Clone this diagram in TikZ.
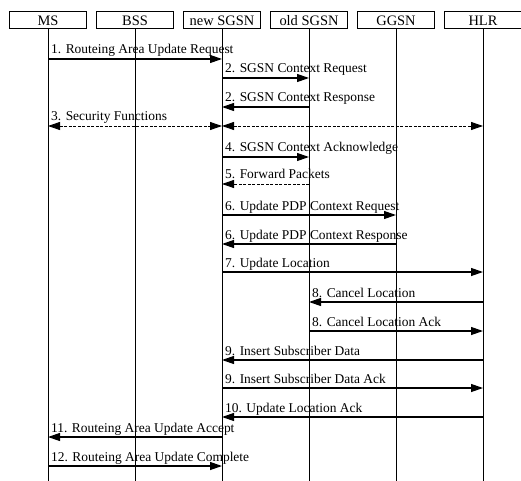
\documentclass[tikz,border=0pt]{standalone}
\usepackage{fontspec}
\setmainfont{Liberation Serif}
\usetikzlibrary{arrows.meta}
\begin{document}
\begin{tikzpicture}[x=1bp,y=-1bp,
  actor/.style={draw,line width=1bp,minimum width=77bp,minimum height=17bp,inner sep=0pt,font=\fontsize{14.5}{14.5}\selectfont},
  life/.style={line width=1bp},
  tip/.tip={Triangle[length=12bp,width=8bp]},
  msgline/.style={line width=1.2bp,-tip},
  dmsg/.style={line width=0.9bp,dash pattern=on 3bp off 1.5bp,-tip},
  both/.style={line width=0.9bp,dash pattern=on 3bp off 1.5bp,tip-tip},
  lbl/.style={anchor=base west,inner sep=0pt,font=\fontsize{13.5}{13.5}\selectfont}]
\useasboundingbox (0,0) rectangle (521,481);
% actors
\node[actor] (ms)   at (48,20.5)  {MS};
\node[actor] (bss)  at (135,20.5) {BSS};
\node[actor] (nsg)  at (222,20.5) {new SGSN};
\node[actor] (osg)  at (309,20.5) {old SGSN};
\node[actor] (ggsn) at (396,20.5) {GGSN};
\node[actor] (hlr)  at (483,20.5) {HLR};
% lifeline ends
\coordinate (msE) at (48,481);
\coordinate (bssE) at (135,481);
\coordinate (nsgE) at (222,481);
\coordinate (osgE) at (309,481);
\coordinate (ggsnE) at (396,481);
\coordinate (hlrE) at (483,481);
\foreach \a in {ms,bss,nsg,osg,ggsn,hlr} \draw[life] (\a) -- (\a E);
% rows
\foreach \n/\y in {r1/59,r2/78,r3/107,r4/126,r5/157,r6/184,r7/215,r8/244,r9/272,r10/302,r11/331,r12/360,r13/388,r14/417,r15/437,r16/466}
  \coordinate (\n) at (0,\y);
% messages
\draw[msgline] (ms |- r1) -- (nsg |- r1);
\node[lbl] at ([shift={(3,-5)}]ms |- r1) {1. Routeing Area Update Request};
\draw[msgline] (nsg |- r2) -- (osg |- r2);
\node[lbl] at ([shift={(3,-5)}]nsg |- r2) {2. SGSN Context Request};
\draw[msgline] (osg |- r3) -- (nsg |- r3);
\node[lbl] at ([shift={(3,-5)}]nsg |- r3) {2. SGSN Context Response};
\draw[both] (ms |- r4) -- (nsg |- r4);
\draw[both] (nsg |- r4) -- (hlr |- r4);
\node[lbl] at ([shift={(3,-5)}]ms |- r4) {3. Security Functions};
\draw[msgline] (nsg |- r5) -- (osg |- r5);
\node[lbl] at ([shift={(3,-5)}]nsg |- r5) {4. SGSN Context Acknowledge};
\draw[dmsg] (osg |- r6) -- (nsg |- r6);
\node[lbl] at ([shift={(3,-5)}]nsg |- r6) {5. Forward Packets};
\draw[msgline] (nsg |- r7) -- (ggsn |- r7);
\node[lbl] at ([shift={(3,-5)}]nsg |- r7) {6. Update PDP Context Request};
\draw[msgline] (ggsn |- r8) -- (nsg |- r8);
\node[lbl] at ([shift={(3,-5)}]nsg |- r8) {6. Update PDP Context Response};
\draw[msgline] (nsg |- r9) -- (hlr |- r9);
\node[lbl] at ([shift={(3,-5)}]nsg |- r9) {7. Update Location};
\draw[msgline] (hlr |- r10) -- (osg |- r10);
\node[lbl] at ([shift={(3,-5)}]osg |- r10) {8. Cancel Location};
\draw[msgline] (osg |- r11) -- (hlr |- r11);
\node[lbl] at ([shift={(3,-5)}]osg |- r11) {8. Cancel Location Ack};
\draw[msgline] (hlr |- r12) -- (nsg |- r12);
\node[lbl] at ([shift={(3,-5)}]nsg |- r12) {9. Insert Subscriber Data};
\draw[msgline] (nsg |- r13) -- (hlr |- r13);
\node[lbl] at ([shift={(3,-5)}]nsg |- r13) {9. Insert Subscriber Data Ack};
\draw[msgline] (hlr |- r14) -- (nsg |- r14);
\node[lbl] at ([shift={(3,-5)}]nsg |- r14) {10. Update Location Ack};
\draw[msgline] (nsg |- r15) -- (ms |- r15);
\node[lbl] at ([shift={(3,-5)}]ms |- r15) {11. Routeing Area Update Accept};
\draw[msgline] (ms |- r16) -- (nsg |- r16);
\node[lbl] at ([shift={(3,-5)}]ms |- r16) {12. Routeing Area Update Complete};
\end{tikzpicture}
\end{document}
